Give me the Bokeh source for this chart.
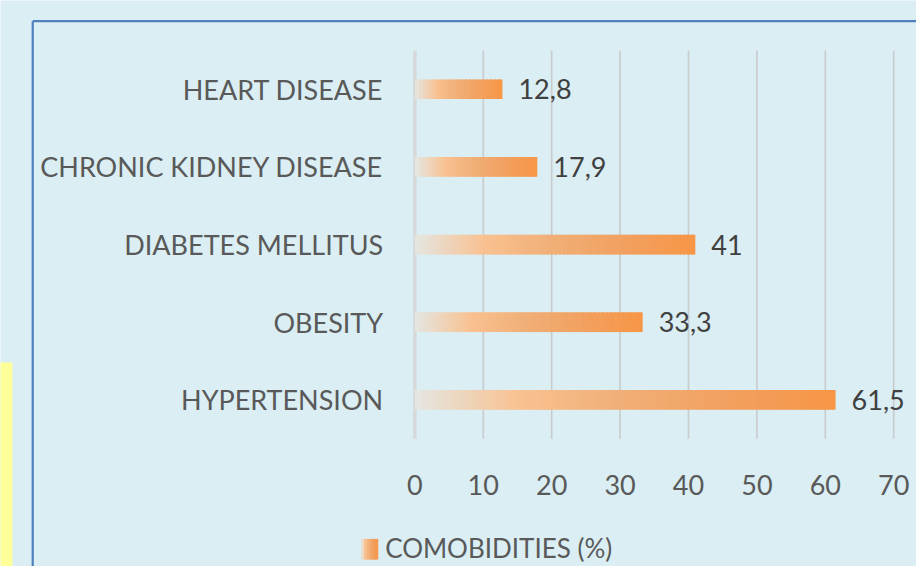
from bokeh.plotting import figure
from bokeh.models import ColumnDataSource
from bokeh.core.properties import value
from bokeh.embed import file_html
from bokeh.resources import INLINE

# ---- data ----
categories = ["HYPERTENSION", "OBESITY", "DIABETES MELLITUS", "CHRONIC KIDNEY DISEASE", "HEART DISEASE"]
values = [61.5, 33.3, 41.0, 17.9, 12.8]
x_ticks = [0, 10, 20, 30, 40, 50, 60, 70]
series_name = "COMOBIDITIES (%)"

# ---- layout helpers (reference pixels -> canvas pixels -> data) ----
W, H = 916, 566
SX, SY = W / 924.0, H / 574.0
X0_PX = 418 * SX                      # canvas x of value 0
PX_PER_X = (901 - 418) * SX / 70.0    # pixels per unit
ROW_PX = 78.75 * SY                   # pixels per category
Y0_PX = 405 * SY                      # canvas y of first category
xs = -X0_PX / PX_PER_X
xe = (W - X0_PX) / PX_PER_X
ye = Y0_PX / ROW_PX
ys = -(H - Y0_PX) / ROW_PX


def dx(px_ref):
    return xs + px_ref * SX / PX_PER_X


def dy(py_ref):
    return ye - py_ref * SY / ROW_PX


BG = "#DAEEF3"
FONT = value("Lato")
FS = "27px"

p = figure(width=W, height=H, x_range=(xs, xe), y_range=(ys, ye),
           output_backend="svg", toolbar_location=None,
           min_border=0, background_fill_color=BG, border_fill_color=BG,
           outline_line_color=None)
p.axis.visible = False
p.grid.visible = False

# yellow strip and frame border
p.quad(left=[dx(-2)], right=[dx(12)], bottom=[dy(580)], top=[dy(367)],
       fill_color="#FFFF99", line_color=None)
p.segment(x0=[dx(32.5), dx(32.5)], y0=[dy(580), dy(21)],
          x1=[dx(32.5), dx(930)], y1=[dy(21), dy(21)],
          line_color="#4F81BD", line_width=2.2)

# gridlines
n_cat = len(categories)
p.segment(x0=x_ticks[1:], x1=x_ticks[1:], y0=[-0.5] * (len(x_ticks) - 1),
          y1=[n_cat - 0.5] * (len(x_ticks) - 1), line_color="#C9CBCC", line_width=1.6)
p.segment(x0=[0], x1=[0], y0=[-0.5], y1=[n_cat - 0.5], line_color="#D6D8D9", line_width=3.5)

# gradient stops
stops = [(0.0, (228, 230, 226)), (0.25, (249, 193, 144)), (0.5, (240, 174, 118)),
         (0.75, (242, 160, 95)), (1.0, (247, 150, 70))]


def grad(t):
    for (t0, c0), (t1, c1) in zip(stops[:-1], stops[1:]):
        if t <= t1:
            f = (t - t0) / (t1 - t0)
            return "#%02x%02x%02x" % tuple(int(round(a + (b - a) * f)) for a, b in zip(c0, c1))
    return "#%02x%02x%02x" % stops[-1][1]


bl, br, by, bc = [], [], [], []
for i, v in enumerate(values):
    n = max(8, int(v * PX_PER_X / 4))
    step = v / n
    for k in range(n):
        bl.append(step * k)
        br.append(step * (k + 1) + (0 if k == n - 1 else step * 0.5))
        by.append(i)
        bc.append(grad((k + 0.5) / n))
bars = ColumnDataSource(dict(left=bl, right=br, y=by, color=bc))
p.hbar(y="y", left="left", right="right", height=20 / 78.75, fill_color="color",
       line_color=None, source=bars)

# category labels
p.text(x=[dx(386)] * n_cat, y=list(range(n_cat)), text=categories,
       text_font=FONT, text_font_size=FS, text_color="#595959",
       text_align="right", text_baseline="middle")

# value labels
p.text(x=values, y=list(range(n_cat)),
       text=[f"{v:g}".replace(".", ",") for v in values],
       x_offset=16, text_font=FONT, text_font_size=FS, text_color="#404040",
       text_align="left", text_baseline="middle")

# tick labels
p.text(x=x_ticks, y=[dy(491)] * len(x_ticks), text=[str(t) for t in x_ticks],
       text_font=FONT, text_font_size=FS, text_color="#595959",
       text_align="center", text_baseline="middle")

# legend
LN = 6
lx0, lx1 = dx(364), dx(380)
for k in range(LN):
    t = (k + 0.5) / LN
    p.quad(left=[lx0 + (lx1 - lx0) * k / LN], right=[lx0 + (lx1 - lx0) * (k + 1.4) / LN],
           bottom=[dy(567)], top=[dy(546)], fill_color=grad(t), line_color=None)
p.text(x=[dx(388)], y=[dy(555)], text=[series_name], text_font=FONT, text_font_size="26px",
       text_color="#595959", text_align="left", text_baseline="middle")

open("out.html", "w").write(file_html(p, INLINE))
